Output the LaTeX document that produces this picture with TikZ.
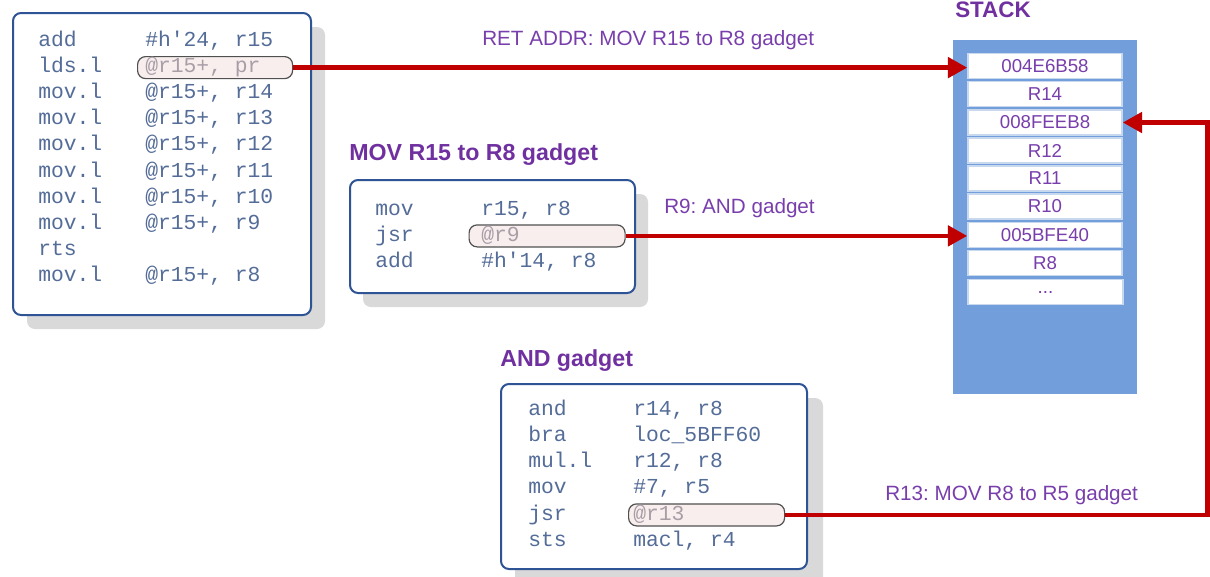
\documentclass[tikz,border=0pt]{standalone}
\usepackage{fontspec}
\setmainfont{Liberation Sans}
\newfontfamily\codefont{Liberation Mono}
\usetikzlibrary{arrows.meta}
\frenchspacing
\definecolor{codeblue}{RGB}{84,108,152}
\definecolor{hltext}{RGB}{168,158,166}
\definecolor{hlfill}{RGB}{249,238,238}
\definecolor{hldraw}{RGB}{80,80,80}
\definecolor{boxline}{RGB}{47,84,150}
\definecolor{shadowgray}{RGB}{217,217,217}
\definecolor{titlepurple}{RGB}{112,48,160}
\definecolor{labelpurple}{RGB}{120,62,172}
\definecolor{arrowred}{RGB}{192,0,0}
\definecolor{stackblue}{RGB}{114,159,219}
\definecolor{cellline}{RGB}{200,216,238}
\tikzset{
  code/.style={font=\codefont\fontsize{16}{18}\selectfont, text=codeblue, inner sep=0pt, anchor=base west},
  hlcode/.style={code, text=hltext},
  hlbox/.style={draw=hldraw, fill=hlfill, line width=0.9pt, rounded corners=6pt, inner sep=0pt, anchor=north west},
  codebox/.style={draw=boxline, fill=white, line width=1.5pt, rounded corners=6pt},
  boxshadow/.style={fill=shadowgray, rounded corners=6pt},
  gtitle/.style={font=\bfseries\fontsize{17.4}{20}\selectfont, text=titlepurple, inner sep=0pt, anchor=base west},
  alabel/.style={font=\fontsize{15.5}{18}\selectfont, text=labelpurple, inner sep=0pt, anchor=base west},
  cell/.style={draw=cellline, fill=white, line width=1.1pt, minimum width=115.5pt, minimum height=18.75pt, inner sep=0pt,
    font=\fontsize{14}{16}\selectfont, text=labelpurple},
  redarrow/.style={draw=arrowred, line width=3.6pt, -{Triangle[length=14.5pt,width=15pt]}},
}
\begin{document}
\begin{tikzpicture}[x=0.75pt,y=-0.75pt]
\useasboundingbox (0,0) rectangle (1210,576);
\clip (0,0) rectangle (1210,576);

% ---- epilogue code box
\fill[boxshadow] (27,27) rectangle (325,329);
\draw[codebox] (13,13) rectangle (311,315);
\node[hlbox, minimum width=116.25pt, minimum height=16.5pt] (hl1) at (137,56) {};
\node[code] (a1) at (38,46) {add};       \node[code] (b1) at (145,46) {\#h'24, r15};
\node[code] (a2) at (38,72.2) {lds.l};   \node[hlcode] (b2) at (145,72.2) {@r15+, pr};
\node[code] (a3) at (38,98.4) {mov.l};   \node[code] (b3) at (145,98.4) {@r15+, r14};
\node[code] (a4) at (38,124.6) {mov.l};  \node[code] (b4) at (145,124.6) {@r15+, r13};
\node[code] (a5) at (38,150.8) {mov.l};  \node[code] (b5) at (145,150.8) {@r15+, r12};
\node[code] (a6) at (38,177) {mov.l};    \node[code] (b6) at (145,177) {@r15+, r11};
\node[code] (a7) at (38,203.2) {mov.l};  \node[code] (b7) at (145,203.2) {@r15+, r10};
\node[code] (a8) at (38,229.4) {mov.l};  \node[code] (b8) at (145,229.4) {@r15+, r9};
\node[code] (a9) at (38,255.6) {rts};
\node[code] (a10) at (38,281.8) {mov.l}; \node[code] (b10) at (145,281.8) {@r15+, r8};

% ---- MOV R15 to R8 gadget
\node[gtitle] (t2) at (349,160.5) {MOV R15 to R8 gadget};
\fill[boxshadow] (363,194) rectangle (648,307);
\draw[codebox] (350,180) rectangle (635,293);
\node[hlbox, minimum width=117pt, minimum height=16.5pt] (hl2) at (468.5,224.3) {};
\node[code] (m1) at (375,215) {mov};  \node[code] (n1) at (481,215) {r15, r8};
\node[code] (m2) at (375,241) {jsr};  \node[hlcode] (n2) at (481,241) {@r9};
\node[code] (m3) at (375,267) {add};  \node[code] (n3) at (481,267) {\#h'14, r8};

% ---- AND gadget
\node[gtitle] (t3) at (500,366) {AND gadget};
\fill[boxshadow] (515,398) rectangle (823,590);
\draw[codebox] (501,384) rectangle (807,569);
\node[hlbox, minimum width=117pt, minimum height=16.5pt] (hl3) at (628,503.3) {};
\node[code] (p1) at (528,415) {and};    \node[code] (q1) at (633,415) {r14, r8};
\node[code] (p2) at (528,441.3) {bra};  \node[code] (q2) at (633,441.3) {loc\_5BFF60};
\node[code] (p3) at (528,467.6) {mul.l};\node[code] (q3) at (633,467.6) {r12, r8};
\node[code] (p4) at (528,493.9) {mov};  \node[code] (q4) at (633,493.9) {\#7, r5};
\node[code] (p5) at (528,520.2) {jsr};  \node[hlcode] (q5) at (633,520.2) {@r13};
\node[code] (p6) at (528,546.5) {sts};  \node[code] (q6) at (633,546.5) {macl, r4};

% ---- stack
\node[gtitle, font=\bfseries\fontsize{16.8}{19}\selectfont] (st) at (955,17) {STACK};
\fill[stackblue] (953,40) rectangle (1137,394);
\node[cell] (s1) at (1045,66) {004E6B58};
\node[cell] (s2) at (1045,94) {R14};
\node[cell] (s3) at (1045,122.5) {008FEEB8};
\node[cell] (s4) at (1045,150.5) {R12};
\node[cell] (s5) at (1045,178.5) {R11};
\node[cell] (s6) at (1045,206.5) {R10};
\node[cell] (s7) at (1045,235) {005BFE40};
\node[cell] (s8) at (1045,263) {R8};
\node[cell, minimum width=116pt] (s9) at (1045.5,292) {...};

% ---- control flow arrows
\draw[redarrow] (hl1.east) -- (hl1.east -| s1.west);
\node[alabel] (l1) at (482,45) {RET ADDR: MOV R15 to R8 gadget};
\draw[redarrow] (hl2.east) -- (hl2.east -| s7.west);
\node[alabel] (l2) at (664,213) {R9: AND gadget};
\coordinate (turn) at (1207.5,514);
\draw[redarrow] (hl3.east) -- (hl3.east -| turn) |- (s3.east);
\node[alabel] (l3) at (885,500) {R13: MOV R8 to R5 gadget};
\end{tikzpicture}
\end{document}
